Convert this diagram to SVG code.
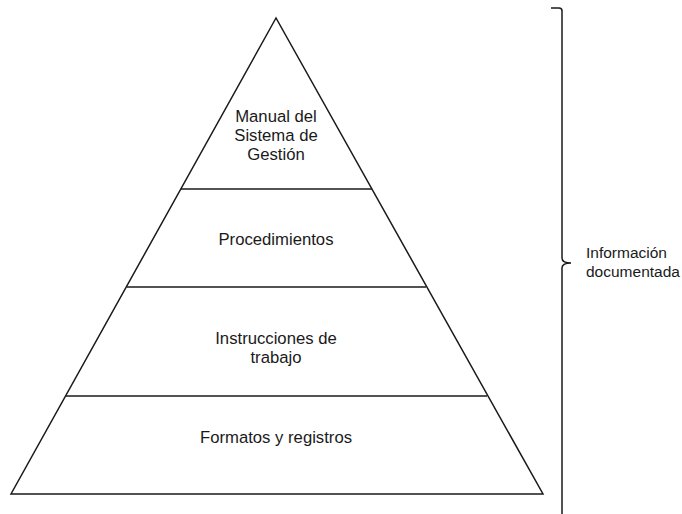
<svg xmlns="http://www.w3.org/2000/svg" width="682" height="514" viewBox="0 0 682 514">
  <style>
    .edge { fill: none; stroke: #1a1a1a; stroke-width: 1.5; }
    .lbl { font-family: "Liberation Sans", Arial, sans-serif; font-size: 16.7px; fill: #1a1a1a; text-anchor: middle; }
    .side { font-family: "Liberation Sans", Arial, sans-serif; font-size: 15.5px; fill: #1a1a1a; }
  </style>
  <rect width="682" height="514" fill="#ffffff"/>

  <!-- pyramid outline and level dividers -->
  <g id="pyramid">
    <polygon class="edge" points="276,18 11,494 543,494"/>
  </g>
  <g id="connectors">
    <line class="edge" x1="181" y1="189" x2="372" y2="189"/>
    <line class="edge" x1="127" y1="287" x2="426" y2="287"/>
    <line class="edge" x1="66" y1="396" x2="487" y2="396"/>
    <!-- right-hand brace spanning all levels -->
    <path class="edge" d="M551,8 L559,8 Q562,8 562,11 L562,258 Q562,263 571,263 Q562,263 562,268 L562,514"/>
  </g>

  <g id="level-manual">
    <text class="lbl" x="276" y="122">Manual del</text>
    <text class="lbl" x="276" y="141">Sistema de</text>
    <text class="lbl" x="276" y="160">Gestión</text>
  </g>
  <g id="level-procedimientos">
    <text class="lbl" x="276" y="245">Procedimientos</text>
  </g>
  <g id="level-instrucciones">
    <text class="lbl" x="276" y="344">Instrucciones de</text>
    <text class="lbl" x="276" y="363">trabajo</text>
  </g>
  <g id="level-formatos">
    <text class="lbl" x="276" y="443">Formatos y registros</text>
  </g>
  <g id="label-informacion">
    <text class="side" x="586" y="258">Información</text>
    <text class="side" x="586" y="277">documentada</text>
  </g>
</svg>
